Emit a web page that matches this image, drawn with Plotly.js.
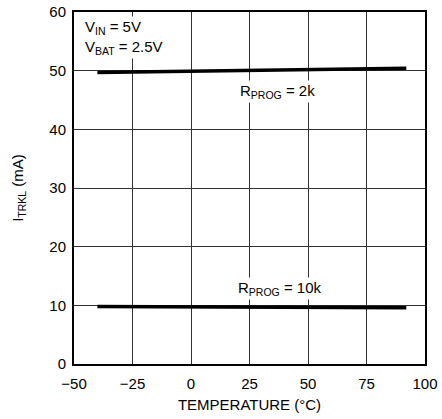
<!DOCTYPE html>
<html>
<head>
<meta charset="utf-8">
<script src="https://cdn.plot.ly/plotly-3.0.1.min.js"></script>
<style>html,body{margin:0;padding:0;background:#fff;}#chart{width:442px;height:419px;}</style>
</head>
<body>
<div id="chart"></div>
<script>
const temp2k = [-40, 92];
const itrkl2k = [49.7, 50.4];
const temp10k = [-40, 92];
const itrkl10k = [9.8, 9.6];
const xTicks = [-50, -25, 0, 25, 50, 75, 100];
const yTicks = [0, 10, 20, 30, 40, 50, 60];

const FONT = "'Liberation Sans Narrow', 'Arial Narrow', 'Liberation Sans', Arial, sans-serif";

const traces = [
  {x: temp2k, y: itrkl2k, mode: 'lines', line: {color: '#000', width: 3.5}, showlegend: false, hoverinfo: 'skip'},
  {x: temp10k, y: itrkl10k, mode: 'lines', line: {color: '#000', width: 3.5}, showlegend: false, hoverinfo: 'skip'}
];

const layout = {
  width: 442, height: 419,
  margin: {l: 74, r: 17, t: 12, b: 55},
  paper_bgcolor: '#fff', plot_bgcolor: '#fff',
  font: {family: FONT, size: 15, color: '#000'},
  xaxis: {
    range: [-50, 100], tickvals: xTicks, ticktext: xTicks.map(v => v < 0 ? '\u2212' + Math.abs(v) : String(v)),
    showgrid: true, gridcolor: '#333', gridwidth: 1, zeroline: false,
    showline: true, linecolor: '#000', linewidth: 2, mirror: true, ticks: '',
    ticklabelstandoff: 5,
    title: {text: 'TEMPERATURE (°C)', font: {family: FONT, size: 15}, standoff: 8},
    tickfont: {family: FONT, size: 15}
  },
  yaxis: {
    range: [0, 60], tickvals: yTicks,
    showgrid: true, gridcolor: '#333', gridwidth: 1, zeroline: false,
    showline: true, linecolor: '#000', linewidth: 2, mirror: true, ticks: '',
    ticklabelstandoff: 3,
    title: {text: 'I<sub>TRKL</sub> (mA)', font: {family: FONT, size: 15}, standoff: 22},
    tickfont: {family: FONT, size: 15}
  },
  annotations: [
    {xref: 'paper', yref: 'paper', x: 0.025, y: 0.99, xanchor: 'left', yanchor: 'top', align: 'left',
     text: 'V<sub>IN</sub> = 5V<br>V<sub>BAT</sub> = 2.5V', showarrow: false, bgcolor: '#fff',
     font: {family: FONT, size: 15}},
    {x: 37, y: 46.5, xref: 'x', yref: 'y', text: 'R<sub>PROG</sub> = 2k', showarrow: false, bgcolor: '#fff',
     font: {family: FONT, size: 15}},
    {x: 38, y: 12.8, xref: 'x', yref: 'y', text: 'R<sub>PROG</sub> = 10k', showarrow: false, bgcolor: '#fff',
     font: {family: FONT, size: 15}}
  ]
};

Plotly.newPlot('chart', traces, layout, {staticPlot: true, displayModeBar: false});
</script>
</body>
</html>
